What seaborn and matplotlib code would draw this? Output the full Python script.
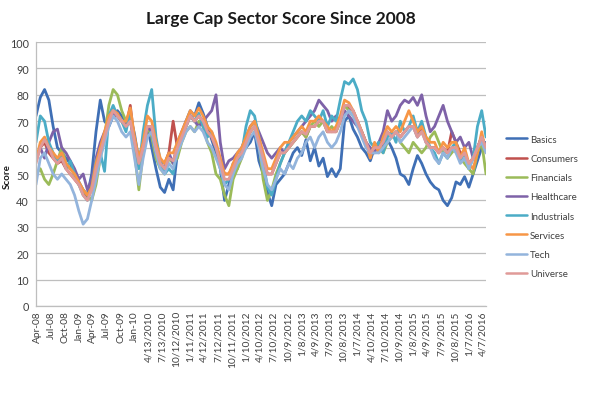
import matplotlib
matplotlib.use("Agg")
import matplotlib.pyplot as plt
import seaborn as sns
import pandas as pd
import numpy as np

# ---------------- data (~every 4 weeks) ----------------
sectors = ["Basics", "Consumers", "Financials", "Healthcare",
           "Industrials", "Services", "Tech", "Universe"]

basics = [72, 79, 82, 78, 68, 60, 58, 56, 54, 50, 47, 44, 42, 50, 66, 78, 70, 68, 72, 74, 72, 70, 72, 65, 55, 62, 68,
          60, 52, 45, 43, 48, 44, 58, 64, 70, 74, 72, 77, 73, 68, 63, 58, 52, 40, 46, 54, 52, 58, 60, 62, 66, 55,
          50, 43, 38, 46, 48, 50, 54, 58, 60, 57, 63, 55, 60, 53, 56, 49, 52, 49, 52, 70, 72, 67, 64, 60, 58, 55, 60,
          62, 60, 63, 60, 56, 50, 49, 46, 52, 57, 54, 50, 47, 45, 44, 40, 38, 41, 47, 46, 49, 45, 50, 55, 60, 62]
consumers = [56, 60, 62, 58, 56, 54, 55, 52, 50, 48, 46, 43, 41, 44, 52, 58, 64, 70, 72, 72, 70, 68, 76, 62, 55, 60, 68,
             68, 60, 55, 54, 58, 70, 60, 64, 68, 72, 70, 72, 70, 66, 64, 60, 54, 50, 50, 53, 56, 58, 62, 66, 68, 62,
             56, 50, 50, 54, 58, 58, 60, 62, 64, 66, 64, 68, 68, 70, 70, 66, 66, 66, 70, 76, 75, 74, 70, 66, 62, 58, 60,
             60, 62, 66, 64, 66, 64, 66, 68, 68, 64, 68, 62, 60, 60, 58, 60, 58, 66, 62, 58, 58, 54, 56, 60, 64, 60]
financials = [50, 52, 48, 46, 50, 55, 60, 54, 52, 50, 46, 44, 42, 40, 46, 56, 64, 76, 82, 80, 74, 70, 72, 58, 44, 58, 68,
              64, 56, 52, 50, 56, 54, 56, 62, 66, 68, 66, 70, 68, 62, 58, 50, 48, 42, 38, 48, 52, 56, 62, 66, 68, 62,
              48, 40, 44, 50, 54, 58, 60, 62, 64, 66, 64, 68, 70, 68, 70, 66, 68, 66, 70, 76, 74, 72, 70, 66, 62, 58, 60,
              60, 58, 62, 64, 66, 62, 60, 58, 62, 60, 58, 60, 64, 66, 62, 58, 56, 58, 60, 56, 54, 52, 50, 58, 62, 50]
healthcare = [55, 60, 56, 62, 66, 67, 60, 58, 55, 52, 48, 50, 44, 48, 56, 62, 66, 70, 73, 72, 70, 68, 70, 62, 55, 60, 68,
              66, 58, 54, 52, 58, 54, 62, 66, 70, 72, 70, 68, 70, 72, 74, 80, 62, 52, 55, 56, 58, 60, 64, 68, 70, 66,
              62, 58, 56, 58, 60, 58, 62, 64, 66, 68, 70, 72, 74, 78, 76, 74, 70, 72, 70, 74, 72, 70, 68, 66, 62, 60, 58,
              62, 66, 74, 70, 72, 76, 78, 77, 79, 76, 80, 72, 66, 68, 72, 76, 70, 66, 62, 64, 60, 62, 56, 60, 64, 60]
industrials = [62, 72, 70, 62, 58, 55, 57, 52, 55, 50, 46, 42, 40, 45, 55, 58, 51, 72, 76, 72, 70, 66, 74, 62, 52, 66, 76,
               82, 64, 55, 50, 52, 50, 60, 64, 68, 72, 70, 73, 68, 64, 66, 60, 54, 46, 48, 50, 55, 58, 68, 74, 72, 64,
               55, 45, 42, 48, 54, 58, 62, 66, 70, 72, 70, 74, 72, 70, 74, 68, 72, 70, 78, 85, 84, 86, 82, 74, 70, 62, 60,
               62, 58, 64, 66, 62, 70, 66, 68, 72, 66, 70, 64, 60, 58, 54, 58, 56, 60, 62, 55, 58, 52, 56, 68, 74, 64]
services = [55, 62, 64, 60, 58, 56, 58, 54, 52, 50, 47, 44, 42, 45, 54, 60, 66, 72, 74, 73, 70, 70, 75, 64, 56, 62, 72,
            70, 62, 56, 54, 58, 58, 62, 66, 70, 74, 72, 75, 72, 68, 66, 62, 56, 50, 50, 54, 58, 60, 64, 68, 70, 64,
            58, 52, 52, 56, 60, 62, 62, 64, 66, 68, 66, 70, 70, 72, 70, 68, 66, 68, 72, 78, 77, 74, 70, 66, 62, 56, 62,
            58, 64, 68, 66, 68, 66, 70, 74, 70, 66, 68, 64, 62, 62, 58, 62, 60, 62, 62, 56, 60, 54, 52, 58, 66, 58]
tech = [46, 56, 58, 54, 50, 48, 50, 48, 46, 42, 36, 31, 33, 40, 48, 56, 62, 68, 72, 70, 66, 64, 66, 56, 46, 56, 64,
        66, 58, 52, 50, 54, 52, 58, 62, 66, 68, 66, 68, 66, 62, 60, 56, 52, 46, 44, 50, 54, 56, 60, 64, 66, 60,
        52, 46, 44, 48, 52, 50, 54, 52, 56, 58, 62, 64, 60, 64, 66, 62, 60, 62, 66, 72, 74, 72, 68, 64, 60, 58, 58,
        58, 60, 62, 64, 66, 62, 64, 66, 68, 64, 66, 62, 60, 56, 54, 58, 56, 60, 58, 54, 56, 52, 56, 60, 62, 58]
universe = [54, 60, 63, 60, 56, 54, 56, 52, 50, 48, 46, 42, 40, 44, 52, 58, 64, 70, 74, 72, 70, 68, 70, 62, 54, 60, 68,
            68, 60, 54, 52, 56, 55, 60, 64, 68, 72, 70, 72, 70, 66, 64, 60, 54, 48, 48, 52, 56, 58, 62, 66, 68, 62,
            56, 50, 50, 54, 58, 58, 60, 62, 64, 66, 65, 68, 68, 70, 70, 66, 66, 66, 70, 76, 76, 74, 70, 66, 62, 58, 60,
            60, 62, 66, 64, 66, 64, 66, 68, 68, 64, 66, 62, 60, 60, 58, 60, 58, 60, 60, 56, 58, 54, 56, 60, 64, 60]

dates = pd.date_range("2008-04-08", periods=len(universe), freq="28D")

tick_labels = ["Apr-08", "Jul-08", "Oct-08", "Jan-09", "Apr-09", "Jul-09", "Oct-09", "Jan-10",
               "4/13/2010", "7/13/2010", "10/12/2010", "1/11/2011", "4/12/2011", "7/12/2011",
               "10/11/2011", "1/10/2012", "4/10/2012", "7/10/2012", "10/9/2012", "1/8/2013",
               "4/9/2013", "7/9/2013", "10/8/2013", "1/7/2014", "4/10/2014", "7/10/2014",
               "10/9/2014", "1/8/2015", "4/9/2015", "7/9/2015", "10/8/2015", "1/7/2016", "4/7/2016"]
tick_dates = pd.date_range("2008-04-15", periods=len(tick_labels), freq="91D")

series = dict(zip(sectors, [basics, consumers, financials, healthcare,
                            industrials, services, tech, universe]))
df = pd.concat([pd.DataFrame({"date": dates, "score": v, "sector": k})
                for k, v in series.items()], ignore_index=True)

colors = {"Basics": "#3F6FB5", "Consumers": "#C0504D", "Financials": "#9BBB59",
          "Healthcare": "#7E62A8", "Industrials": "#4BACC6", "Services": "#F79646",
          "Tech": "#93B4DC", "Universe": "#E09A98"}

# ---------------- plot ----------------
sns.set_style("white")
plt.rcParams["font.family"] = ["Lato", "DejaVu Sans"]

fig = plt.figure(figsize=(5.93, 4.10), dpi=100)
ax = fig.add_axes([36 / 593, 1 - 307 / 410, 450 / 593, 264 / 410])

sns.lineplot(data=df, x="date", y="score", hue="sector", hue_order=sectors,
             palette=colors, linewidth=2.0, ax=ax, legend=True)

ax.set_xlim(pd.Timestamp("2008-04-08"), dates[-1])
ax.set_ylim(0, 100)
ax.set_yticks(range(0, 101, 10))
ax.set_xticks(tick_dates)
ax.set_xticklabels(tick_labels, rotation=90, fontsize=7.3, color="#404040")
ax.tick_params(axis="y", labelsize=7.8, labelcolor="#404040", length=0, pad=5)
ax.tick_params(axis="x", length=0, pad=3)
ax.set_xlabel("")
ax.set_ylabel("")
ax.yaxis.grid(True, color="#BEBEBE", linewidth=0.9)
ax.set_axisbelow(True)
for s in ["top", "right"]:
    ax.spines[s].set_visible(False)
for s in ["left", "bottom"]:
    ax.spines[s].set_color("#BEBEBE")
    ax.spines[s].set_linewidth(0.9)

handles, labels = ax.get_legend_handles_labels()
ax.legend_.remove()
for h in handles:
    h.set_linewidth(1.8)
fig.legend(handles, labels, loc="upper left", bbox_to_anchor=(497 / 593, 1 - 127 / 410),
           frameon=False, fontsize=7, handlelength=2.2, handletextpad=0.3,
           labelspacing=1.05, labelcolor="#404040")

fig.text(281 / 593, 1 - 19 / 410, "Large Cap Sector Score Since 2008",
         ha="center", va="center", fontsize=12.5, fontweight="bold", color="#1a1a1a")
fig.text(7 / 593, 1 - 177 / 410, "Score", rotation=90, ha="center", va="center",
         fontsize=7, fontweight="bold", color="#1a1a1a")

fig.savefig("out.png", dpi=100)
